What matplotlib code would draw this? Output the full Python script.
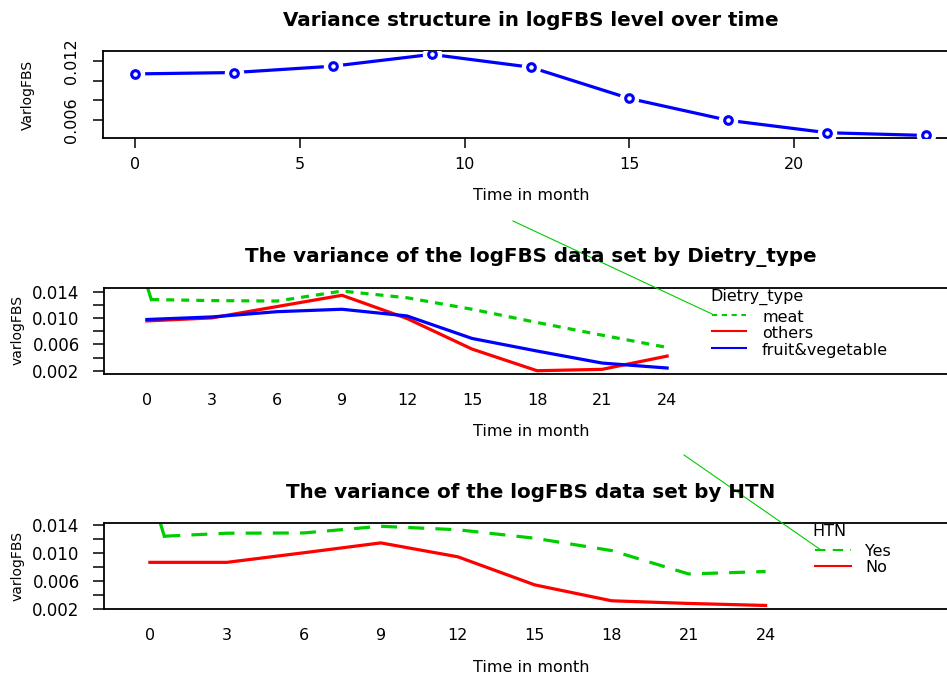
import numpy as np
import matplotlib
matplotlib.use("Agg")
import matplotlib.pyplot as plt
from matplotlib.lines import Line2D

# overall variance of logFBS by month
month_all = [0, 3, 6, 9, 12, 15, 18, 21, 24]
var_all = [0.01072, 0.01086, 0.01151, 0.01272, 0.01141, 0.00820, 0.00596, 0.00469, 0.00441]

# by dietary type
months = [0, 3, 6, 9, 12, 15, 18, 21, 24]
meat_month = [0, 0.2, 3, 6, 9, 12, 15, 18, 21, 24]
var_meat = [0.0150, 0.01285, 0.01269, 0.01262, 0.01414, 0.01312, 0.01137, 0.00935, 0.00742, 0.00555]
var_others = [0.00959, 0.01005, 0.01178, 0.01350, 0.00996, 0.00530, 0.00200, 0.00221, 0.00423]
var_fruitveg = [0.00981, 0.01020, 0.01100, 0.01137, 0.01035, 0.00692, 0.00500, 0.00317, 0.00241]

# by HTN
yes_month = [0.35, 0.56, 3, 6, 9, 12, 15, 18, 21, 24]
var_yes = [0.0150, 0.01243, 0.01286, 0.01290, 0.01386, 0.01336, 0.01214, 0.01036, 0.00700, 0.00735]
var_no = [0.00867, 0.00867, 0.01005, 0.01147, 0.00947, 0.00543, 0.00314, 0.00276, 0.00247]

diet_labels = ["meat", "others", "fruit&vegetable"]
htn_labels = ["Yes", "No"]

W, H = 947, 675
fig = plt.figure(figsize=(W / 100, H / 100), dpi=100)
plt.rcParams['font.family'] = ['DejaVu Sans']

def fx(px):
    return px / W

def fy(py):
    return 1 - py / H

def panel(left, right, top, bottom):
    ax = fig.add_axes([fx(left), fy(bottom), (right - left) / W, (bottom - top) / H])
    for s in ax.spines.values():
        s.set_linewidth(1.3)
    ax.spines['right'].set_visible(False)
    return ax

GREEN = '#00CD00'
LW = 2.3
TXT = 11.5
TITLE = 14.3

# ---------- panel 1 ----------
ax1 = panel(103, 958, 51, 138)
ax1.plot(month_all, var_all, color='blue', lw=LW, zorder=2)
ax1.plot(month_all, var_all, ls='none', marker='o', ms=13, mfc='white', mec='white', zorder=3)
ax1.plot(month_all, var_all, ls='none', marker='o', ms=5.5, mfc='white', mec='blue', mew=2.2, zorder=4)
ax1.set_xlim(-0.96, 24.96)
ax1.set_ylim(0.00415, 0.01307)
ax1.set_xticks([0, 5, 10, 15, 20])
ax1.set_yticks([0.006, 0.008, 0.010, 0.012])
ax1.set_yticklabels(['0.006', '', '', '0.012'], rotation=90, va='center')
ax1.tick_params(axis='x', length=7.2, width=1.1, pad=6.5, labelsize=TXT)
ax1.tick_params(axis='y', length=7.2, width=1.1, pad=10, labelsize=TXT)

fig.text(fx(531), fy(21), "Variance structure in logFBS level over time",
         ha='center', va='center', fontsize=TITLE, fontweight='bold')
fig.text(fx(531), fy(196), "Time in month", ha='center', va='center', fontsize=TXT)
fig.text(fx(28), fy(95), "VarlogFBS", ha='center', va='center', rotation=90, fontsize=10)

# ---------- panel 2 ----------
ax2 = panel(104, 958, 288, 374)
ax2.plot(meat_month[:2], var_meat[:2], color=GREEN, lw=LW)
ax2.plot(meat_month[1:], var_meat[1:], color=GREEN, lw=LW, ls=(0, (2.5, 2.2)))
ax2.plot(months, var_others, color='red', lw=LW)
ax2.plot(months, var_fruitveg, color='blue', lw=LW)
ax2.set_xlim(-1.98, 37.42)
ax2.set_ylim(0.0015, 0.01461)
ax2.set_xticks(months)
ax2.set_yticks([0.002, 0.006, 0.010, 0.014])
ax2.set_yticks([0.004, 0.008, 0.012], minor=True)
ax2.set_yticklabels(['0.002', '0.006', '0.010', '0.014'])
ax2.tick_params(axis='x', length=0, pad=14, labelsize=TXT)
ax2.tick_params(axis='y', which='both', length=8, width=1.1, pad=9.5, labelsize=12)

fig.text(fx(531), fy(257), "The variance of the logFBS data set by Dietry_type",
         ha='center', va='center', fontsize=TITLE, fontweight='bold')
fig.text(fx(531), fy(432), "Time in month", ha='center', va='center', fontsize=TXT)
fig.text(fx(18), fy(330), "varlogFBS", ha='center', va='center', rotation=90, fontsize=10)

# legend for dietary type
fig.text(fx(710), fy(297), "Dietry_type", ha='left', va='center', fontsize=TXT)
diet_styles = [dict(color=GREEN, ls=(0, (2.5, 2.2))), dict(color='red', ls='-'), dict(color='blue', ls='-')]
for i, (lab, st) in enumerate(zip(diet_labels, diet_styles)):
    yy = 315 + i * 16.5
    fig.add_artist(Line2D([fx(712), fx(746)], [fy(yy), fy(yy)], lw=1.5, **st))
    fig.text(fx(762), fy(yy + 2), lab, ha='left', va='center', fontsize=TXT)
fig.add_artist(Line2D([fx(513), fx(712)], [fy(221), fy(314)], color=GREEN, lw=0.8))

# ---------- panel 3 ----------
ax3 = panel(104, 958, 523, 609)
ax3.plot(yes_month[:2], var_yes[:2], color=GREEN, lw=LW)
ax3.plot(yes_month[1:], var_yes[1:], color=GREEN, lw=LW, ls=(0, (5, 3.5)))
ax3.plot(months, var_no, color='red', lw=LW)
ax3.set_xlim(-1.79, 31.5)
ax3.set_ylim(0.00196, 0.01433)
ax3.set_xticks(months)
ax3.set_yticks([0.002, 0.006, 0.010, 0.014])
ax3.set_yticks([0.004, 0.008, 0.012], minor=True)
ax3.set_yticklabels(['0.002', '0.006', '0.010', '0.014'])
ax3.tick_params(axis='x', length=0, pad=14, labelsize=TXT)
ax3.tick_params(axis='y', which='both', length=8, width=1.1, pad=9.5, labelsize=12)

fig.text(fx(531), fy(493), "The variance of the logFBS data set by HTN",
         ha='center', va='center', fontsize=TITLE, fontweight='bold')
fig.text(fx(531), fy(667), "Time in month", ha='center', va='center', fontsize=TXT)
fig.text(fx(18), fy(566), "varlogFBS", ha='center', va='center', rotation=90, fontsize=10)

# legend for HTN
fig.text(fx(812), fy(532), "HTN", ha='left', va='center', fontsize=TXT)
htn_styles = [dict(color=GREEN, ls=(0, (5, 3.5))), dict(color='red', ls='-')]
for i, (lab, st) in enumerate(zip(htn_labels, htn_styles)):
    yy = 550 + i * 16
    fig.add_artist(Line2D([fx(815), fx(851)], [fy(yy), fy(yy)], lw=1.5, **st))
    fig.text(fx(865), fy(yy + 2), lab, ha='left', va='center', fontsize=TXT)
fig.add_artist(Line2D([fx(684), fx(821)], [fy(455), fy(550)], color=GREEN, lw=0.8))

fig.savefig("out.png", dpi=100)
